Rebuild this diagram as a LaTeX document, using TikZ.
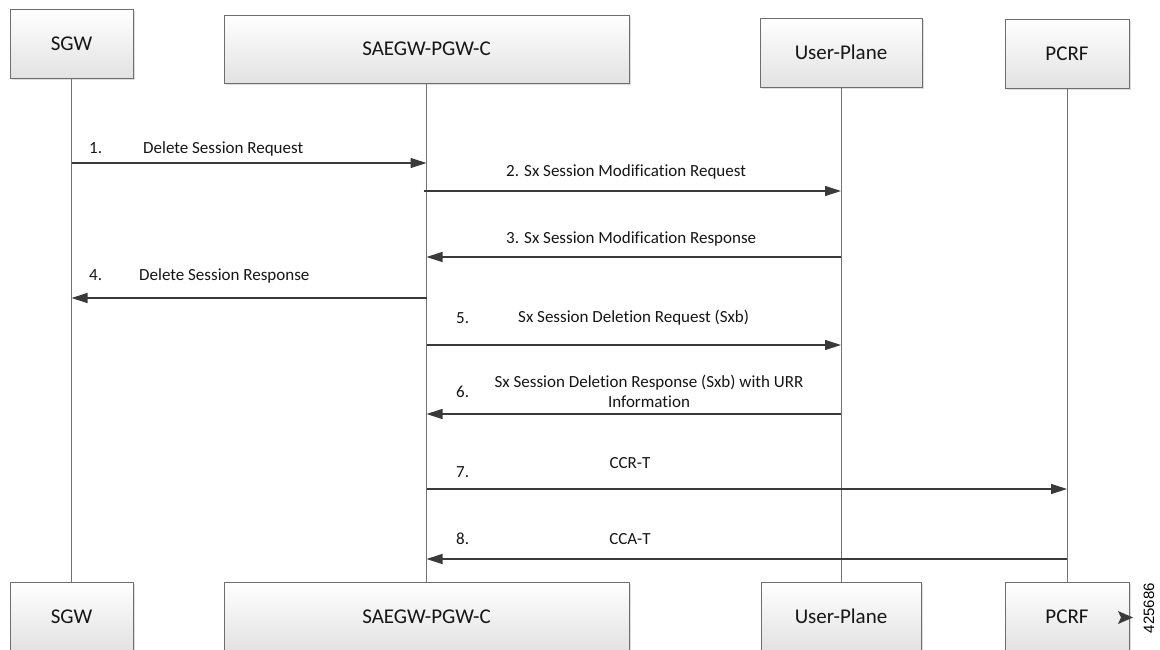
\documentclass[tikz,border=0pt]{standalone}
\usepackage{fontspec}
\setmainfont{Carlito}[Ligatures=NoCommon]
\newfontfamily\numfont{Liberation Sans}
\usetikzlibrary{arrows.meta,shadows}
\definecolor{boxline}{HTML}{6E6E6E}
\definecolor{lifeln}{HTML}{737373}
\definecolor{msgln}{HTML}{3A3A3A}
\definecolor{boxbot}{HTML}{E2E2E2}
\definecolor{txt}{HTML}{161616}
\begin{document}
\begin{tikzpicture}[x=1pt,y=-1pt,
  ent/.style={draw=boxline, line width=1pt, top color=white, bottom color=boxbot,
    font=\fontsize{21}{24}\selectfont, text=txt, inner sep=0pt,
    drop shadow={shadow xshift=2pt, shadow yshift=-2pt, fill=black!25, opacity=0.5}},
  life/.style={draw=lifeln, line width=1pt},
  msg/.style={draw=msgln, line width=1.2pt, -{Triangle[length=16pt,width=10pt]}},
  lbl/.style={font=\fontsize{17}{20}\selectfont, text=txt, inner sep=0pt}]
\useasboundingbox (0,0) rectangle (1160,649);
\clip (0,0) rectangle (1160,649);
\fill[white] (0,0) rectangle (1160,649);

% top entities
\node[ent, minimum width=123pt, minimum height=69pt] (sgwT) at (71.5,43.5) {SGW};
\node[ent, minimum width=405pt, minimum height=68pt] (pgwT) at (426.5,49) {SAEGW-PGW-C};
\node[ent, minimum width=162pt, minimum height=69pt] (upT) at (841,52.5) {User-Plane};
\node[ent, minimum width=124pt, minimum height=69pt] (pcrfT) at (1067,53.5) {PCRF};

% bottom entities
\node[ent, minimum width=123pt, minimum height=69pt] (sgwB) at (71.5,616.5) {SGW};
\node[ent, minimum width=405pt, minimum height=69pt] (pgwB) at (426.5,616.5) {SAEGW-PGW-C};
\node[ent, minimum width=160pt, minimum height=69pt] (upB) at (841,616.5) {User-Plane};
\node[ent, minimum width=124pt, minimum height=69pt] (pcrfB) at (1067,616.5) {PCRF};

% lifelines
\draw[life] (sgwT) -- (sgwB);
\draw[life] (pgwT) -- (pgwB);
\draw[life] (upT) -- (upB);
\draw[life] (pcrfT) -- (pcrfB);

% message rows
\coordinate (m1) at (0,163);
\coordinate (m2) at (0,191);
\coordinate (m3) at (0,257);
\coordinate (m4) at (0,298);
\coordinate (m5) at (0,345);
\coordinate (m6) at (0,414);
\coordinate (m7) at (0,489);
\coordinate (m8) at (0,559);

\draw[msg] (sgwT |- m1) -- (pgwT |- m1);
\draw[msg] ([xshift=-3pt]pgwT.center |- m2) -- (upT |- m2);
\draw[msg] (upT |- m3) -- (pgwT |- m3);
\draw[msg] (pgwT |- m4) -- (sgwT |- m4);
\draw[msg] (pgwT |- m5) -- (upT |- m5);
\draw[msg] (upT |- m6) -- (pgwT |- m6);
\draw[msg] (pgwT |- m7) -- (pcrfT |- m7);
\draw[msg] (pcrfT |- m8) -- (pgwT |- m8);

% labels
\node[lbl, anchor=base west] (n1) at (89,153) {1.};
\node[lbl, anchor=base west] (t1) at (143,153) {Delete Session Request};
\node[lbl, anchor=base west] (t2) at (506,176) {2. Sx Session Modification Request};
\node[lbl, anchor=base west] (t3) at (506,243) {3. Sx Session Modification Response};
\node[lbl, anchor=base west] (n4) at (89,280) {4.};
\node[lbl, anchor=base west] (t4) at (139,280) {Delete Session Response};
\node[lbl, anchor=base west] (n5) at (456,323) {5.};
\node[lbl, anchor=base west] (t5) at (518,322) {Sx Session Deletion Request (Sxb)};
\node[lbl, anchor=base west] (n6) at (456,397) {6.};
\node[lbl, anchor=base] (t6a) at (649,387) {Sx Session Deletion Response (Sxb) with URR};
\node[lbl, anchor=base] (t6b) at (649,407) {Information};
\node[lbl, anchor=base west] (n7) at (456,477) {7.};
\node[lbl, anchor=base] (t7) at (630,468) {CCR-T};
\node[lbl, anchor=base west] (n8) at (456,544) {8.};
\node[lbl, anchor=base] (t8) at (630,544) {CCA-T};

% figure id mark
\fill[msgln] (1118,611) -- (1133,617.5) -- (1118,624) -- (1121,617.5) -- cycle;
\node[rotate=90, font=\numfont\fontsize{15}{15}\selectfont, text=black, inner sep=0pt] (fid) at (1149,608) {425686};
\end{tikzpicture}
\end{document}
